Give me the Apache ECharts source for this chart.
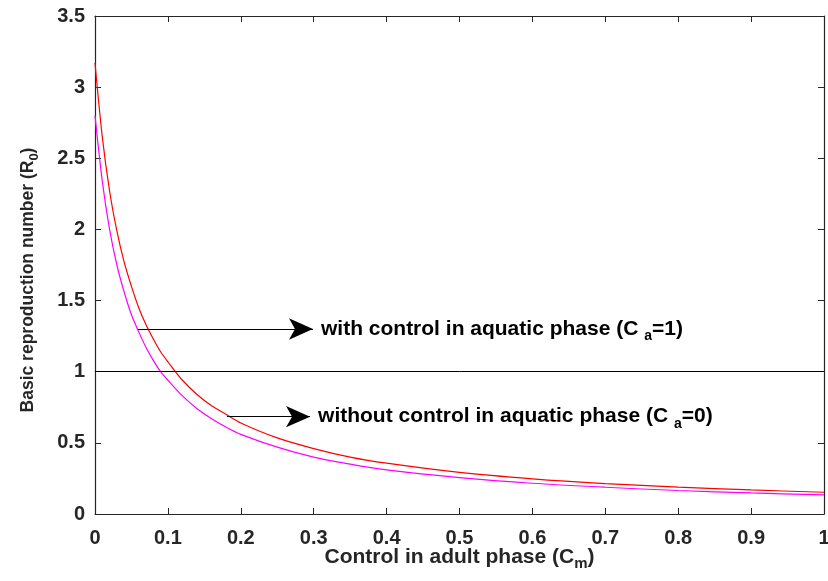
<!DOCTYPE html>
<html>
<head>
<meta charset="utf-8">
<script src="https://cdn.jsdelivr.net/npm/echarts@6/dist/echarts.min.js"></script>
<style>
  html, body { margin: 0; padding: 0; background: #fff; }
  #chart { width: 828px; height: 581px; }
</style>
</head>
<body>
<div id="chart"></div>
<script>
// control in adult phase (C_m)
const cm = [0, 0.01, 0.02, 0.03, 0.04, 0.05, 0.06, 0.07, 0.08, 0.09, 0.10, 0.12, 0.14, 0.16, 0.18, 0.20,
  0.25, 0.30, 0.35, 0.40, 0.50, 0.60, 0.70, 0.80, 0.90, 1.00]
// R0
const r0Red = [3.17, 2.65, 2.27, 1.99, 1.77, 1.60, 1.45, 1.33, 1.23, 1.14, 1.07, 0.94, 0.84, 0.76, 0.70, 0.64,
  0.535, 0.46, 0.40, 0.357, 0.292, 0.247, 0.214, 0.189, 0.169, 0.153]
const r0Magenta = [2.80, 2.34, 2.00, 1.75, 1.56, 1.40, 1.28, 1.17, 1.08, 1.00, 0.94, 0.83, 0.74, 0.67, 0.61, 0.56,
  0.47, 0.40, 0.35, 0.31, 0.256, 0.216, 0.188, 0.165, 0.148, 0.134]

const xTicks = ['0', '0.1', '0.2', '0.3', '0.4', '0.5', '0.6', '0.7', '0.8', '0.9', '1']
const yTicks = ['0', '0.5', '1', '1.5', '2', '2.5', '3', '3.5']

// arrows: [from x, to x, y]
const arrowWith = [0.059, 0.299, 1.3]
const arrowWithout = [0.181, 0.295, 0.684]
const threshold = 1

const axisColor = '#262626'
const font = 'Liberation Sans, Arial, sans-serif'

const toPairs = function (xs, ys) {
  return xs.map((x, i) => [x, ys[i]])
}

const annoRich = {
  t: { fontFamily: font, fontWeight: 'bold', fontSize: 21, color: '#000', lineHeight: 24 },
  s: { fontFamily: font, fontWeight: 'bold', fontSize: 14, color: '#000', padding: [14, 0, 0, 0], lineHeight: 24 }
}

const arrowLine = function (a, text) {
  return [
    { coord: [a[0], a[2]], symbol: 'none' },
    {
      coord: [a[1], a[2]],
      symbol: 'arrow',
      symbolSize: [16, 24],
      label: { show: true, position: 'end', distance: 8, formatter: text, rich: annoRich }
    }
  ]
}

const boxAxis = function (pos, isX) {
  return {
    type: 'value',
    position: pos,
    min: 0,
    max: isX ? 1 : 3.5,
    interval: isX ? 0.1 : 0.5,
    axisLine: { show: true, onZero: false, lineStyle: { color: axisColor, width: 1.2 } },
    axisTick: { show: true, inside: true, length: 6, lineStyle: { color: axisColor } },
    axisLabel: { show: false },
    splitLine: { show: false }
  }
}

const myChart = echarts.init(document.getElementById('chart'))
const option = {
  animation: false,
  backgroundColor: '#fff',
  grid: { left: 95, right: 4, top: 16, bottom: 67, outerBoundsMode: 'none', containLabel: false },
  xAxis: [{
    type: 'value',
    min: 0,
    max: 1,
    interval: 0.1,
    name: '{t|Control in adult phase (C}{s|m}{t|)}',
    nameLocation: 'middle',
    nameGap: 31,
    nameMoveOverlap: false,
    nameTextStyle: {
      rich: {
        t: { fontFamily: font, fontWeight: 'bold', fontSize: 21, color: axisColor, lineHeight: 24 },
        s: { fontFamily: font, fontWeight: 'bold', fontSize: 15, color: axisColor, padding: [14, 0, 0, 0], lineHeight: 24 }
      }
    },
    axisLine: { show: true, onZero: false, lineStyle: { color: axisColor, width: 1.2 } },
    axisTick: { show: true, inside: true, length: 6, lineStyle: { color: axisColor } },
    axisLabel: {
      margin: 14,
      fontFamily: font,
      fontWeight: 'bold',
      fontSize: 20,
      color: axisColor,
      formatter: function (v) { return xTicks[Math.round(v * 10)] }
    },
    splitLine: { show: false }
  }, boxAxis('top', true)],
  yAxis: [{
    type: 'value',
    min: 0,
    max: 3.5,
    interval: 0.5,
    name: '{t|Basic reproduction number (R}{s|0}{t|)}',
    nameLocation: 'middle',
    nameGap: 56,
    nameRotate: 90,
    nameMoveOverlap: false,
    nameTextStyle: {
      padding: [0, 30, 0, 0],
      rich: {
        t: { fontFamily: font, fontWeight: 'bold', fontSize: 17.5, color: axisColor, lineHeight: 22 },
        s: { fontFamily: font, fontWeight: 'bold', fontSize: 13, color: axisColor, padding: [12, 0, 0, 0], lineHeight: 22 }
      }
    },
    axisLine: { show: true, onZero: false, lineStyle: { color: axisColor, width: 1.2 } },
    axisTick: { show: true, inside: true, length: 6, lineStyle: { color: axisColor } },
    axisLabel: {
      margin: 10,
      fontFamily: font,
      fontWeight: 'bold',
      fontSize: 20,
      color: axisColor,
      formatter: function (v) { return yTicks[Math.round(v * 2)] }
    },
    splitLine: { show: false }
  }, boxAxis('right', false)],
  series: [
    {
      type: 'line',
      data: toPairs(cm, r0Red),
      smooth: 0.3,
      symbol: 'none',
      lineStyle: { color: '#ff0000', width: 1.2 },
      z: 3,
      markLine: {
        silent: true,
        symbol: 'none',
        lineStyle: { color: '#000', width: 1, type: 'solid' },
        label: { show: false },
        data: [[{ coord: [0, threshold] }, { coord: [1, threshold] }]]
      }
    },
    {
      type: 'line',
      data: toPairs(cm, r0Magenta),
      smooth: 0.3,
      symbol: 'none',
      lineStyle: { color: '#ff00ff', width: 1.2 },
      z: 3,
      markLine: {
        silent: true,
        lineStyle: { color: '#000', width: 1, type: 'solid' },
        itemStyle: { color: '#000' },
        data: [
          arrowLine(arrowWith, '{t|with control in aquatic phase (C }{s|a}{t|=1)}'),
          arrowLine(arrowWithout, '{t|without control in aquatic phase (C }{s|a}{t|=0)}')
        ]
      }
    }
  ]
}
myChart.setOption(option)
</script>
</body>
</html>
